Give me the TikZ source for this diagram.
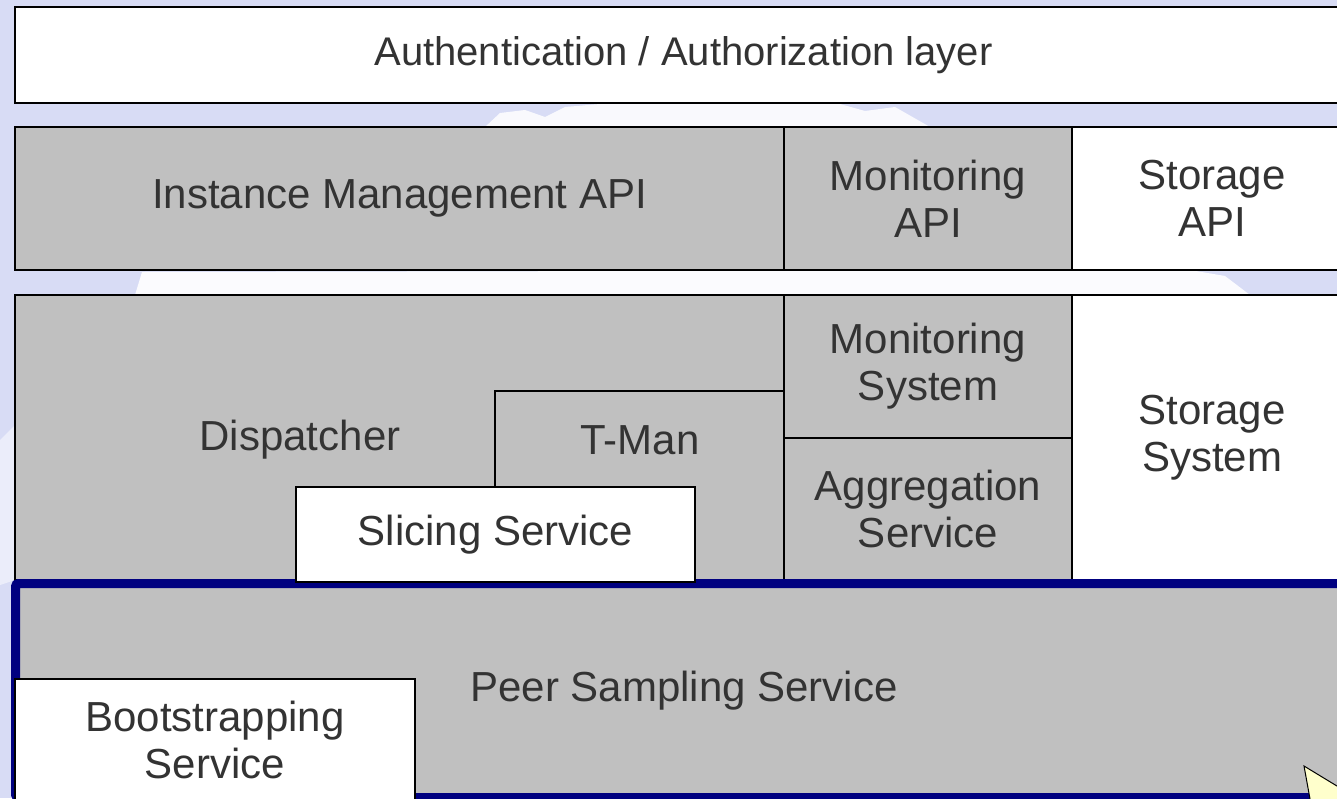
\documentclass[tikz,border=0pt]{standalone}
\usepackage{fontspec}
\setmainfont{Liberation Sans}

\definecolor{boxgray}{RGB}{192,192,192}
\definecolor{inkgray}{RGB}{51,51,51}
\definecolor{psnavy}{RGB}{0,0,128}
\definecolor{skyblue}{RGB}{216,220,245}
\definecolor{notecolor}{RGB}{255,255,204}

\begin{document}
\begin{tikzpicture}[x=1pt,y=-1pt,line width=2pt,text=inkgray,
                    font=\fontsize{42}{47}\selectfont]
  \tikzstyle{layer}=[rectangle,draw=black,fill=boxgray,anchor=north west,
                     inner sep=0pt,outer sep=0pt,align=center]
  \tikzstyle{plain}=[layer,fill=white]
  \tikzstyle{cloud}=[fill=white,draw=none]

  \useasboundingbox (0,0) rectangle (1337,798);
  \clip (0,0) rectangle (1337,798);
  \fill[skyblue] (0,0) rectangle (1337,798);
  \fill[cloud,opacity=0.85] (485,127) -- (500,113) -- (525,110) -- (545,117)
       -- (565,107) -- (600,104) -- (840,104) -- (865,111) -- (895,107)
       -- (930,127) -- cycle;
  \fill[cloud,opacity=0.9] (135,295) -- (142,272) -- (1190,270)
       -- (1225,276) -- (1250,295) -- cycle;
  \fill[cloud,opacity=0.5] (0,440) -- (15,425) -- (15,580) -- (0,585) -- cycle;

  \node[plain, minimum width=1337, minimum height=96] (auth) at (15,7)
       {\fontsize{40}{46}\selectfont Authentication / Authorization layer};

  \node[layer, minimum width=769, minimum height=143] (imapi) at (15,127)
       {Instance Management API};
  \node[layer, minimum width=288, minimum height=143] (monapi) at (784,127)
       {Monitoring\\API};
  \node[plain, minimum width=280, minimum height=143] (stoapi) at (1072,127)
       {Storage\\API};

  \node[layer, minimum width=769, minimum height=285] (disp) at (15,295) {};
  \node (dispT) at (300,440) {Dispatcher};
  \node[layer, minimum width=289, minimum height=189] (tman) at (495,391) {};
  \node (tmanT) at (640,440) {T-Man};
  \node[layer, minimum width=288, minimum height=143] (monsys) at (784,295)
       {Monitoring\\System};
  \node[layer, minimum width=288, minimum height=142] (aggr) at (784,438)
       {Aggregation\\Service};
  \node[plain, minimum width=280, minimum height=285] (stosys) at (1072,295)
       {Storage\\System};

  \node[layer, draw=psnavy, line width=9pt, rounded corners=3pt,
        minimum width=1337, minimum height=214] (pss) at (15.5,583.5)
       {Peer Sampling Service};
  \node[plain, minimum width=399, minimum height=95] (slice) at (296,487)
       {Slicing Service};
  \node[plain, minimum width=400, minimum height=121] (boot) at (15,679)
       {Bootstrapping\\Service};

  \draw[fill=notecolor, line width=1pt] (1304,766) -- (1360,800)
       -- (1312,810) -- cycle;
\end{tikzpicture}
\end{document}
